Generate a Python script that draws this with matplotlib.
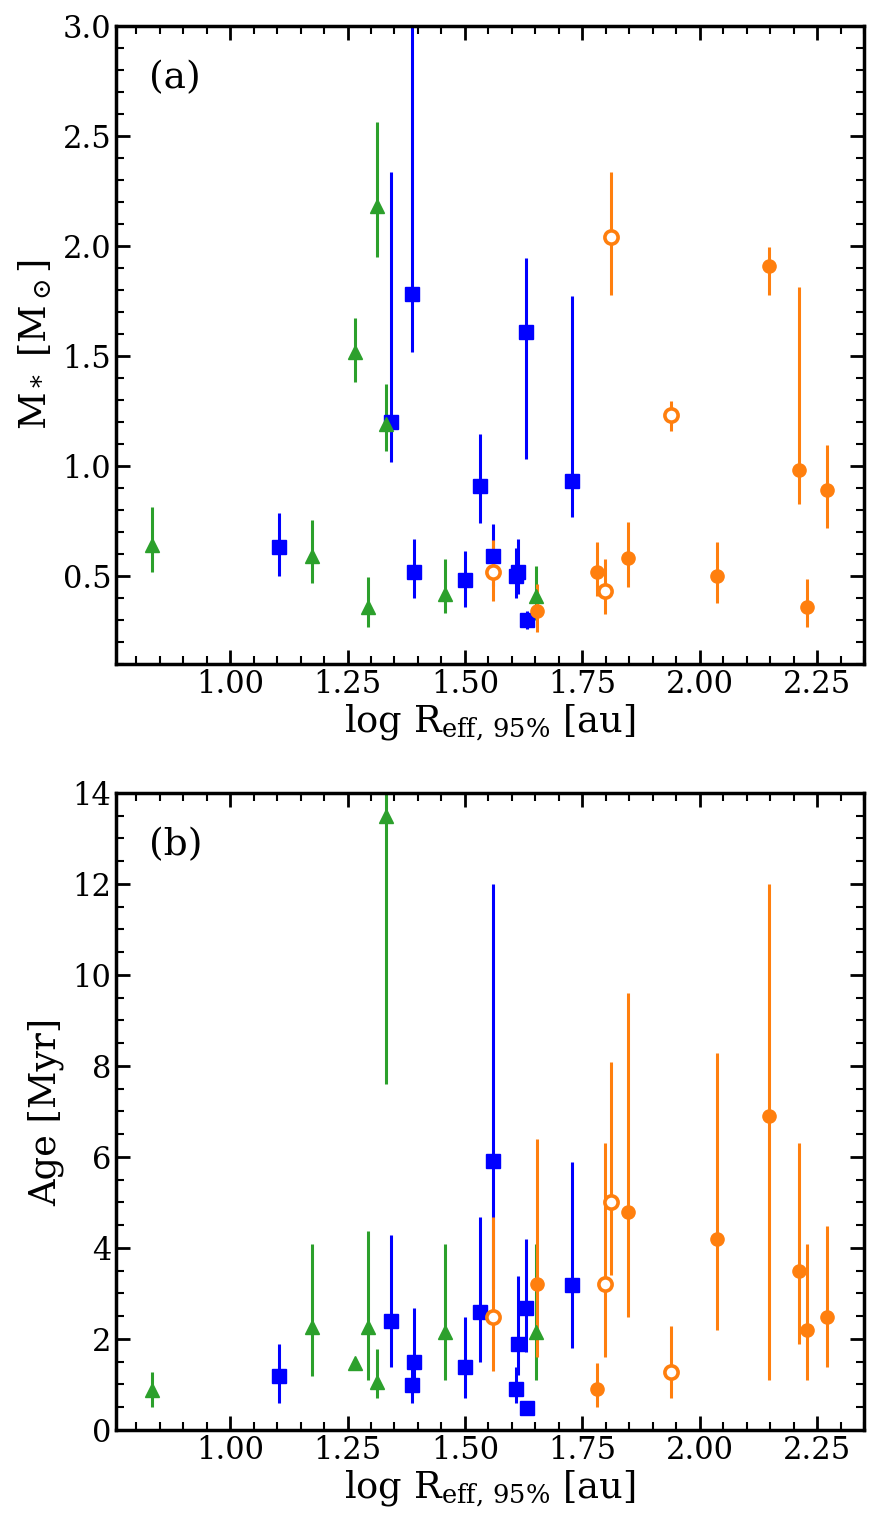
import numpy as np
import matplotlib
matplotlib.use('Agg')
import matplotlib.pyplot as plt

plt.rcParams['font.family'] = 'DejaVu Serif'
plt.rcParams['mathtext.fontset'] = 'dejavuserif'

# ---- data ----
# green triangles
g_logr   = [0.833, 1.174, 1.265, 1.293, 1.312, 1.331, 1.457, 1.652]
g_mass   = [0.64, 0.59, 1.52, 0.36, 2.18, 1.19, 0.42, 0.41]
g_mass_lo = [0.52, 0.47, 1.38, 0.27, 1.95, 1.07, 0.33, 0.30]
g_mass_hi = [0.815, 0.755, 1.675, 0.495, 2.565, 1.375, 0.575, 0.545]
g_age    = [0.88, 2.27, 1.47, 2.27, 1.06, 13.5, 2.16, 2.16]
g_age_lo = [0.5, 1.19, 1.47, 1.1, 0.7, 7.6, 1.1, 1.1]
g_age_hi = [1.28, 4.09, 1.47, 4.38, 1.78, 16.0, 4.09, 4.09]

# blue squares
b_logr   = [1.105, 1.343, 1.387, 1.391, 1.500, 1.533, 1.560, 1.608, 1.614, 1.631, 1.633, 1.728]
b_mass   = [0.63, 1.20, 1.78, 0.52, 0.48, 0.91, 0.59, 0.50, 0.52, 1.61, 0.30, 0.93]
b_mass_lo = [0.50, 1.02, 1.52, 0.40, 0.36, 0.74, 0.456, 0.40, 0.42, 1.03, 0.26, 0.77]
b_mass_hi = [0.785, 2.335, 3.5, 0.667, 0.615, 1.145, 0.736, 0.626, 0.667, 1.945, 0.34, 1.775]
b_age    = [1.19, 2.4, 0.99, 1.49, 1.39, 2.59, 5.91, 0.89, 1.88, 2.69, 0.49, 3.19]
b_age_lo = [0.6, 1.39, 0.6, 0.99, 0.7, 1.49, 3.1, 0.6, 1.2, 1.71, 0.49, 1.8]
b_age_hi = [1.88, 4.29, 1.49, 2.69, 2.49, 4.69, 12.0, 1.39, 3.38, 4.19, 0.49, 5.88]

# orange filled circles
of_logr   = [1.654, 1.781, 1.848, 2.037, 2.147, 2.212, 2.229, 2.272]
of_mass   = [0.34, 0.52, 0.58, 0.50, 1.91, 0.98, 0.36, 0.89]
of_mass_lo = [0.247, 0.41, 0.449, 0.376, 1.777, 0.827, 0.27, 0.717]
of_mass_hi = [0.464, 0.655, 0.744, 0.655, 1.994, 1.815, 0.485, 1.095]
of_age    = [3.2, 0.89, 4.79, 4.19, 6.9, 3.49, 2.2, 2.49]
of_age_lo = [1.6, 0.5, 2.49, 2.2, 1.1, 1.9, 1.1, 1.39]
of_age_hi = [6.39, 1.48, 9.6, 8.29, 12.0, 6.3, 4.09, 4.48]

# orange open circles
oo_logr   = [1.559, 1.799, 1.812, 1.939]
oo_mass   = [0.52, 0.43, 2.04, 1.23]
oo_mass_lo = [0.388, 0.327, 1.777, 1.159]
oo_mass_hi = [0.664, 0.576, 2.335, 1.295]
oo_age    = [2.49, 3.2, 5.0, 1.28]
oo_age_lo = [1.3, 1.6, 3.4, 0.7]
oo_age_hi = [4.69, 6.3, 8.09, 2.29]

blue = '#0000ff'
green = '#2ca02c'
orange = '#ff7f0e'


def yerr(v, lo, hi):
    v = np.array(v)
    return [v - np.array(lo), np.array(hi) - v]


def draw(ax, key):
    sets = [
        (b_logr, b_mass, b_mass_lo, b_mass_hi, b_age, b_age_lo, b_age_hi,
         dict(fmt='s', color=blue, ms=9.5)),
        (g_logr, g_mass, g_mass_lo, g_mass_hi, g_age, g_age_lo, g_age_hi,
         dict(fmt='^', color=green, ms=10.5)),
        (of_logr, of_mass, of_mass_lo, of_mass_hi, of_age, of_age_lo, of_age_hi,
         dict(fmt='o', color=orange, ms=9.5)),
        (oo_logr, oo_mass, oo_mass_lo, oo_mass_hi, oo_age, oo_age_lo, oo_age_hi,
         dict(fmt='o', color=orange, ms=9.5, mfc='white', mew=2.6)),
    ]
    for x, m, mlo, mhi, a, alo, ahi, kw in sets:
        if key == 'mass':
            ax.errorbar(x, m, yerr=yerr(m, mlo, mhi), elinewidth=2.2, capsize=0, **kw)
        else:
            ax.errorbar(x, a, yerr=yerr(a, alo, ahi), elinewidth=2.2, capsize=0, **kw)


def style(ax):
    ax.set_xlim(0.757, 2.35)
    ax.set_xticks([1.00, 1.25, 1.50, 1.75, 2.00, 2.25])
    ax.set_xticklabels(['1.00', '1.25', '1.50', '1.75', '2.00', '2.25'])
    ax.xaxis.set_minor_locator(matplotlib.ticker.MultipleLocator(0.05))
    ax.tick_params(which='both', direction='in', top=True, right=True, labelsize=22)
    ax.tick_params(which='major', length=10, width=2)
    ax.tick_params(which='minor', length=6, width=1.5)
    for s in ax.spines.values():
        s.set_linewidth(2.5)
    ax.set_xlabel(r'log R$_{\rm eff,\,95\%}$ [au]', fontsize=26.5, labelpad=2)


fig = plt.figure(figsize=(8.79, 15.32), dpi=100)
ax1 = fig.add_axes([0.132, 0.5666, 0.851, 0.4164])
ax2 = fig.add_axes([0.132, 0.0666, 0.851, 0.4158])

draw(ax1, 'mass')
style(ax1)
ax1.set_ylim(0.1, 3.0)
ax1.set_yticks([0.5, 1.0, 1.5, 2.0, 2.5, 3.0])
ax1.yaxis.set_minor_locator(matplotlib.ticker.MultipleLocator(0.1))
ax1.set_ylabel(r'M$_*$ [M$_\odot$]', fontsize=26.5, labelpad=6)
ax1.text(0.044, 0.903, '(a)', transform=ax1.transAxes, fontsize=27, va='baseline')

draw(ax2, 'age')
style(ax2)
ax2.set_ylim(0, 14)
ax2.set_yticks([0, 2, 4, 6, 8, 10, 12, 14])
ax2.yaxis.set_minor_locator(matplotlib.ticker.MultipleLocator(0.5))
ax2.set_ylabel('Age [Myr]', fontsize=26.5, labelpad=6)
ax2.text(0.044, 0.903, '(b)', transform=ax2.transAxes, fontsize=27, va='baseline')

fig.savefig('out.png', dpi=100)
